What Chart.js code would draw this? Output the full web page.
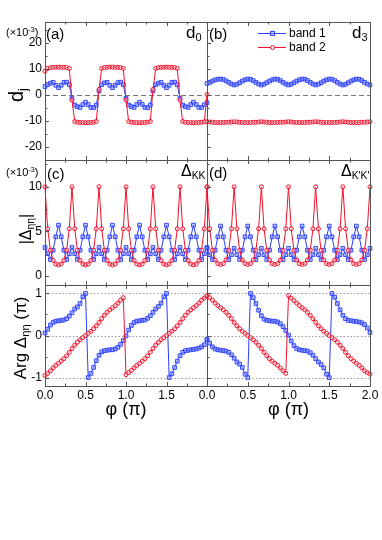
<!DOCTYPE html>
<html>
<head>
<meta charset="utf-8">
<script src="https://cdn.jsdelivr.net/npm/chart.js@4.4.1/dist/chart.umd.min.js"></script>
<style>
  body { margin: 0; background: #fff; width: 382px; height: 540px; position: relative; overflow: hidden;
         font-family: "Liberation Sans", Arial, sans-serif; }
  canvas { position: absolute; }
  .t { position: absolute; white-space: nowrap; color: #000; line-height: 1; transform: translateY(-50%); }
  .rot { position: absolute; white-space: nowrap; color: #000; line-height: 1; transform: translate(-50%, -50%) rotate(-90deg); }
  sub { font-size: 65%; vertical-align: -0.3em; line-height: 0; }
  sup { font-size: 65%; vertical-align: 0.5em; line-height: 0; }
  .lg { position: absolute; height: 0; border-top: 1px solid; }
  .mk { position: absolute; box-sizing: border-box; border: 1px solid; }
</style>
</head>
<body>
<canvas id="pa" width="219" height="162" style="left:0;top:10px"></canvas>
<canvas id="pc" width="219" height="149" style="left:0;top:148px"></canvas>
<canvas id="pe" width="219" height="159" style="left:0;top:273px"></canvas>
<canvas id="pb" width="187" height="162" style="left:195px;top:10px"></canvas>
<canvas id="pd" width="187" height="149" style="left:195px;top:148px"></canvas>
<canvas id="pf" width="187" height="159" style="left:195px;top:273px"></canvas>

<div class="t" style="left:6px;top:32px;font-size:11px">(×10<sup>-3</sup>)</div>
<div class="t" style="left:46px;top:33px;font-size:15px">(a)</div>
<div class="t" style="left:186px;top:32px;font-size:17px">d<sub>0</sub></div>
<div class="t" style="left:209px;top:33px;font-size:15px">(b)</div>
<div class="t" style="left:352px;top:32px;font-size:17px">d<sub>3</sub></div>
<div class="t" style="left:6px;top:172px;font-size:11px">(×10<sup>-3</sup>)</div>
<div class="t" style="left:47px;top:173px;font-size:15px">(c)</div>
<div class="t" style="left:181px;top:171px;font-size:16px">Δ<sub>KK</sub></div>
<div class="t" style="left:209px;top:172px;font-size:15px">(d)</div>
<div class="t" style="left:341px;top:171px;font-size:16px">Δ<sub>K'K'</sub></div>

<div class="rot" style="left:16px;top:95px;font-size:20px">d<sub>j</sub></div>
<div class="rot" style="left:26px;top:229px;font-size:16px">|Δ<sub>ηη</sub>|</div>
<div class="rot" style="left:20px;top:338px;font-size:17px">Arg Δ<sub>ηη</sub> (π)</div>

<div class="lg" style="left:258px;top:33px;width:28px;border-color:#2a3cff"></div>
<div class="mk" style="left:270px;top:31px;width:5px;height:5px;border-color:#3447ff;background:rgba(140,155,255,0.45)"></div>
<div class="t" style="left:289px;top:33px;font-size:12px">band 1</div>
<div class="lg" style="left:258px;top:47px;width:28px;border-color:#f2122c"></div>
<div class="mk" style="left:270px;top:45px;width:5px;height:5px;border-radius:50%;border-color:#f2122c;background:#fff"></div>
<div class="t" style="left:289px;top:47px;font-size:12px">band 2</div>

<script>
Chart.defaults.font.family = '"Liberation Sans", Arial, sans-serif';

// sampling of phi (units of pi)
const phi = [0,0.033,0.067,0.1,0.133,0.167,0.2,0.233,0.267,0.3,0.333,0.367,0.4,0.433,0.467,0.5,0.533,0.567,0.6,0.633,0.667,0.7,0.733,0.767,0.8,0.833,0.867,0.9,0.933,0.967,1,
  1.033,1.067,1.1,1.133,1.167,1.2,1.233,1.267,1.3,1.333,1.367,1.4,1.433,1.467,1.5,1.533,1.567,1.6,1.633,1.667,1.7,1.733,1.767,1.8,1.833,1.867,1.9,1.933,1.967,2];

// (a) d0
const d0Band1 = [3.2, 3.9,4.5,4.8,3.7,2.8,3.7,4.8,4.9,3.9, -1.2, -3.9,-4.5,-4.8,-3.7,-2.8,-3.7,-4.8,-4.9,-3.9,
  1.5, 3.9,4.6,4.8,3.7,2.8,3.7,4.7,4.9,3.9, -1.3, -3.9,-4.5,-4.8,-3.7,-2.8,-3.6,-4.8,-4.9,-3.9,
  1.5, 3.9,4.5,4.8,3.7,2.8,3.7,4.8,4.9,3.9, -1.3, -3.9,-4.5,-4.8,-3.7,-2.8,-3.7,-4.8,-4.8,-3.8, -3.0];
const d0Band2 = [9.1, 10.2,10.5,10.6,10.6,10.7,10.6,10.6,10.5,10.2, -2.0, -10.2,-10.5,-10.6,-10.6,-10.7,-10.6,-10.6,-10.5,-10.2,
  2.1, 10.2,10.5,10.6,10.7,10.7,10.6,10.6,10.5,10.2, -2.0, -10.2,-10.5,-10.6,-10.6,-10.7,-10.6,-10.6,-10.5,-10.2,
  2.1, 10.2,10.5,10.6,10.6,10.7,10.6,10.6,10.5,10.2, -2.0, -10.2,-10.5,-10.6,-10.6,-10.7,-10.6,-10.6,-10.5,-10.3, 0.2];

// (b) d3
const d3Band1 = [4.4,4.8,5.3,5.8,6.0,6.1,5.9,5.4,4.8,4.2, 3.8,4.1,4.7,5.3,5.8,6.1,6.0,5.5,4.8,4.2,
  3.8,4.1,4.7,5.3,5.8,6.1,6.0,5.5,4.8,4.2, 3.8,4.1,4.7,5.3,5.8,6.1,6.0,5.5,4.8,4.2,
  3.8,4.1,4.7,5.3,5.8,6.1,6.0,5.5,4.8,4.2, 3.8,4.1,4.7,5.3,5.8,6.1,6.0,5.5,4.8,4.2, 3.8];
const d3Band2 = [-10.3,-10.4,-10.5,-10.6,-10.6,-10.6,-10.6,-10.5,-10.5,-10.4, -10.3,-10.4,-10.5,-10.6,-10.6,-10.6,-10.6,-10.5,-10.5,-10.4,
  -10.3,-10.4,-10.5,-10.6,-10.6,-10.6,-10.6,-10.5,-10.5,-10.4, -10.3,-10.4,-10.5,-10.6,-10.6,-10.6,-10.6,-10.5,-10.5,-10.4,
  -10.3,-10.4,-10.5,-10.6,-10.6,-10.6,-10.6,-10.5,-10.5,-10.4, -10.3,-10.4,-10.5,-10.6,-10.6,-10.6,-10.6,-10.5,-10.5,-10.4, -10.3];

// (c) |Delta| KK
const kkBand1 = [3.2,2.5,1.85,2.9,4.4,5.7,4.4,2.9,1.85,2.5, 3.2,2.5,1.85,2.9,4.4,5.7,4.4,2.9,1.85,2.5,
  3.2,2.5,1.85,2.9,4.4,5.7,4.4,2.9,1.85,2.5, 3.2,2.5,1.85,2.9,4.4,5.7,4.4,2.9,1.85,2.5,
  3.2,2.5,1.85,2.9,4.4,5.7,4.4,2.9,1.85,2.5, 3.2,2.5,1.85,2.9,4.4,5.7,4.4,2.9,1.85,2.5, 3.2];
const kkBand2 = [10,5.3,2.9,1.75,1.35,1.25,1.35,1.75,2.9,5.3, 10,5.3,2.9,1.75,1.35,1.25,1.35,1.75,2.9,5.3,
  10,5.3,2.9,1.75,1.35,1.25,1.35,1.75,2.9,5.3, 10,5.3,2.9,1.75,1.35,1.25,1.35,1.75,2.9,5.3,
  10,5.3,2.9,1.75,1.35,1.25,1.35,1.75,2.9,5.3, 10,5.3,2.9,1.75,1.35,1.25,1.35,1.75,2.9,5.3, 10];

// (d) |Delta| K'K'
const kpBand1 = [3.1,2.4,1.85,2.9,4.4,5.6,4.4,2.9,1.85,2.4, 3.1,2.4,1.85,2.9,4.4,5.6,4.4,2.9,1.85,2.4,
  3.1,2.4,1.85,2.9,4.4,5.6,4.4,2.9,1.85,2.4, 3.1,2.4,1.85,2.9,4.4,5.6,4.4,2.9,1.85,2.4,
  3.1,2.4,1.85,2.9,4.4,5.6,4.4,2.9,1.85,2.4, 3.1,2.4,1.85,2.9,4.4,5.6,4.4,2.9,1.85,2.4, 3.1];
const kpBand2 = [10,5.3,2.9,1.8,1.4,1.3,1.4,1.8,2.9,5.3, 10,5.3,2.9,1.8,1.4,1.3,1.4,1.8,2.9,5.3,
  10,5.3,2.9,1.8,1.4,1.3,1.4,1.8,2.9,5.3, 10,5.3,2.9,1.8,1.4,1.3,1.4,1.8,2.9,5.3,
  10,5.3,2.9,1.8,1.4,1.3,1.4,1.8,2.9,5.3, 10,5.3,2.9,1.8,1.4,1.3,1.4,1.8,2.9,5.3, 10];

// Arg Delta, left (KK) and right (K'K')
const argLBand1 = [0.06,0.15,0.25,0.31,0.34,0.35,0.36,0.37,0.4,0.46,0.54,0.63,0.68,0.76,0.92,1.0,
  -1.0,-0.9,-0.76,-0.6,-0.47,-0.39,-0.36,-0.35,-0.34,-0.34,-0.32,-0.28,-0.21,-0.12,-0.01,
  0.13,0.24,0.31,0.34,0.35,0.36,0.37,0.41,0.47,0.55,0.63,0.69,0.77,0.92,1.0,
  -1.0,-0.91,-0.76,-0.61,-0.48,-0.4,-0.36,-0.35,-0.34,-0.33,-0.32,-0.3,-0.27,-0.22,-0.1];
const argLBand2 = [-0.95,-0.9,-0.84,-0.77,-0.71,-0.66,-0.61,-0.55,-0.48,-0.4,-0.31,-0.23,-0.16,-0.1,-0.05,0.0,0.05,0.1,0.16,0.23,0.31,0.4,0.48,0.55,0.61,0.66,0.71,0.77,0.84,0.9,
  -0.93,-0.88,-0.83,-0.77,-0.71,-0.66,-0.61,-0.55,-0.48,-0.4,-0.31,-0.23,-0.16,-0.1,-0.05,0.0,0.05,0.1,0.16,0.23,0.31,0.4,0.48,0.55,0.61,0.66,0.71,0.77,0.84,0.89,0.93];
const argRBand1 = [-0.1,-0.18,-0.27,-0.32,-0.34,-0.35,-0.36,-0.37,-0.4,-0.46,-0.54,-0.63,-0.68,-0.76,-0.92,-1.0,
  1.0,0.9,0.76,0.6,0.47,0.39,0.36,0.35,0.34,0.34,0.32,0.28,0.21,0.12,0.01,
  -0.13,-0.24,-0.31,-0.34,-0.35,-0.36,-0.37,-0.41,-0.47,-0.55,-0.63,-0.69,-0.77,-0.92,-1.0,
  1.0,0.91,0.76,0.61,0.48,0.4,0.36,0.35,0.34,0.33,0.32,0.3,0.26,0.18,0.07];
const argRBand2 = [0.95,0.9,0.84,0.77,0.71,0.66,0.61,0.55,0.48,0.4,0.31,0.23,0.16,0.1,0.05,0.0,-0.05,-0.1,-0.16,-0.23,-0.31,-0.4,-0.48,-0.55,-0.61,-0.66,-0.71,-0.77,-0.84,-0.9,
  0.95,0.89,0.83,0.77,0.71,0.66,0.61,0.55,0.48,0.4,0.31,0.23,0.16,0.1,0.05,0.0,-0.05,-0.1,-0.16,-0.23,-0.31,-0.4,-0.48,-0.55,-0.61,-0.66,-0.71,-0.77,-0.84,-0.88,-0.92];

// tick labels
const yTicksD = [-20, -10, 0, 10, 20];
const yTicksAbs = [0, 5, 10];
const yTicksArg = [-1, 0, 1];
const xTicksLeft = [0, 0.5, 1, 1.5];
const xTicksRight = [0, 0.5, 1, 1.5, 2];

// frame, inward ticks and reference lines
const panelFrame = {
  id: 'panelFrame',
  beforeDatasetsDraw(chart, args, o) {
    const { ctx, chartArea: a } = chart;
    const y = chart.scales.y;
    ctx.save();
    ctx.strokeStyle = o.refColor;
    ctx.lineWidth = 1;
    ctx.setLineDash(o.refDash);
    o.refLines.forEach(v => {
      const py = Math.round(y.getPixelForValue(v)) + 0.5;
      ctx.beginPath();
      ctx.moveTo(a.left, py);
      ctx.lineTo(a.right, py);
      ctx.stroke();
    });
    ctx.restore();
  },
  afterDatasetsDraw(chart, args, o) {
    const { ctx, chartArea: a, scales: { x, y } } = chart;
    ctx.save();
    ctx.strokeStyle = '#555';
    ctx.lineWidth = 1;
    ctx.beginPath();
    const nx = Math.round((x.max - x.min) / o.xMinor);
    const kx = Math.round(o.xMajor / o.xMinor);
    for (let i = 0; i <= nx; i++) {
      const px = Math.round(x.getPixelForValue(x.min + i * o.xMinor)) + 0.5;
      const len = i % kx === 0 ? 4 : 2.5;
      ctx.moveTo(px, a.top); ctx.lineTo(px, a.top + len);
      ctx.moveTo(px, a.bottom); ctx.lineTo(px, a.bottom - len);
    }
    const j0 = Math.ceil(y.min / o.yMinor - 1e-9);
    const j1 = Math.floor(y.max / o.yMinor + 1e-9);
    const ky = Math.round(o.yMajor / o.yMinor);
    for (let j = j0; j <= j1; j++) {
      const py = Math.round(y.getPixelForValue(j * o.yMinor)) + 0.5;
      const len = j % ky === 0 ? 4 : 2.5;
      ctx.moveTo(a.left, py); ctx.lineTo(a.left + len, py);
    }
    ctx.stroke();
    ctx.strokeRect(Math.round(a.left) + 0.5, Math.round(a.top) + 0.5, Math.round(a.right - a.left), Math.round(a.bottom - a.top));
    ctx.restore();
  }
};

const blueStyle = { label: 'band 1', borderColor: '#2a3cff', borderWidth: 1, pointStyle: 'rect', pointRadius: 2.6,
  pointBorderWidth: 1, pointBorderColor: '#3447ff', pointBackgroundColor: 'rgba(140,155,255,0.45)', order: 2, clip: 4 };
const redStyle = { label: 'band 2', borderColor: '#f2122c', borderWidth: 1, pointStyle: 'circle', pointRadius: 2,
  pointBorderWidth: 1, pointBorderColor: '#f2122c', pointBackgroundColor: 'rgba(255,255,255,0.4)', order: 1, clip: 4 };

const pts = vals => phi.map((p, i) => ({ x: p, y: vals[i] }));

function makePanel(id, band1, band2, cfg) {
  return new Chart(document.getElementById(id), {
    type: 'line',
    data: {
      datasets: [
        Object.assign({ data: pts(band1) }, blueStyle),
        Object.assign({ data: pts(band2) }, redStyle)
      ]
    },
    options: {
      responsive: false,
      animation: false,
      events: [],
      layout: { padding: cfg.pad },
      plugins: {
        legend: { display: false },
        tooltip: { enabled: false },
        panelFrame: {
          xMinor: 0.25, xMajor: 0.5, yMinor: cfg.yMinor, yMajor: cfg.yMajor,
          refLines: cfg.refLines, refDash: cfg.refDash, refColor: cfg.refColor
        }
      },
      scales: {
        x: {
          type: 'linear', min: 0, max: 2,
          display: !!cfg.xTicks,
          grid: { display: false, drawTicks: false },
          border: { display: false },
          afterBuildTicks: s => { if (cfg.xTicks) s.ticks = cfg.xTicks.map(v => ({ value: v })); },
          afterFit: s => { s.height = cfg.xTicks ? 46 : 0; },
          ticks: { color: '#000', font: { size: 12 }, padding: 2, autoSkip: false, maxRotation: 0,
                   callback: v => v.toFixed(1) },
          title: { display: true, text: 'φ (π)', color: '#000', font: { size: 18 }, padding: { top: 0, bottom: 11 } }
        },
        y: {
          min: cfg.yMin, max: cfg.yMax,
          display: !!cfg.yTicks,
          grid: { display: false, drawTicks: false },
          border: { display: false },
          afterBuildTicks: s => { if (cfg.yTicks) s.ticks = cfg.yTicks.map(v => ({ value: v })); },
          afterFit: s => { s.width = cfg.yTicks ? 45 : 0; },
          ticks: { color: '#000', font: { size: 12 }, padding: 3, callback: v => String(v) }
        }
      }
    },
    plugins: [panelFrame]
  });
}

const dashZero = { refLines: [0], refDash: [5, 3], refColor: '#777' };
const dotArg = { refLines: [-1, 0, 1], refDash: [1.5, 2], refColor: '#999' };
const noRef = { refLines: [], refDash: [], refColor: '#000' };

makePanel('pa', d0Band1, d0Band2, Object.assign({ yMin: -25, yMax: 28, yTicks: yTicksD, yMinor: 5, yMajor: 10,
  pad: { left: 0, top: 12, right: 12, bottom: 12 } }, dashZero));
makePanel('pc', kkBand1, kkBand2, Object.assign({ yMin: -1, yMax: 13, yTicks: yTicksAbs, yMinor: 2.5, yMajor: 5,
  pad: { left: 0, top: 12, right: 12, bottom: 12 } }, noRef));
makePanel('pe', argLBand1, argLBand2, Object.assign({ yMin: -1.2, yMax: 1.2, yTicks: yTicksArg, yMinor: 0.5, yMajor: 1,
  xTicks: xTicksLeft, pad: { left: 0, top: 12, right: 12, bottom: 0 } }, dotArg));
makePanel('pb', d3Band1, d3Band2, Object.assign({ yMin: -25, yMax: 28, yMinor: 5, yMajor: 10,
  pad: { left: 12, top: 12, right: 12, bottom: 12 } }, dashZero));
makePanel('pd', kpBand1, kpBand2, Object.assign({ yMin: -1, yMax: 13, yMinor: 2.5, yMajor: 5,
  pad: { left: 12, top: 12, right: 12, bottom: 12 } }, noRef));
makePanel('pf', argRBand1, argRBand2, Object.assign({ yMin: -1.2, yMax: 1.2, yMinor: 0.5, yMajor: 1,
  xTicks: xTicksRight, pad: { left: 12, top: 12, right: 12, bottom: 0 } }, dotArg));
</script>
</body>
</html>
